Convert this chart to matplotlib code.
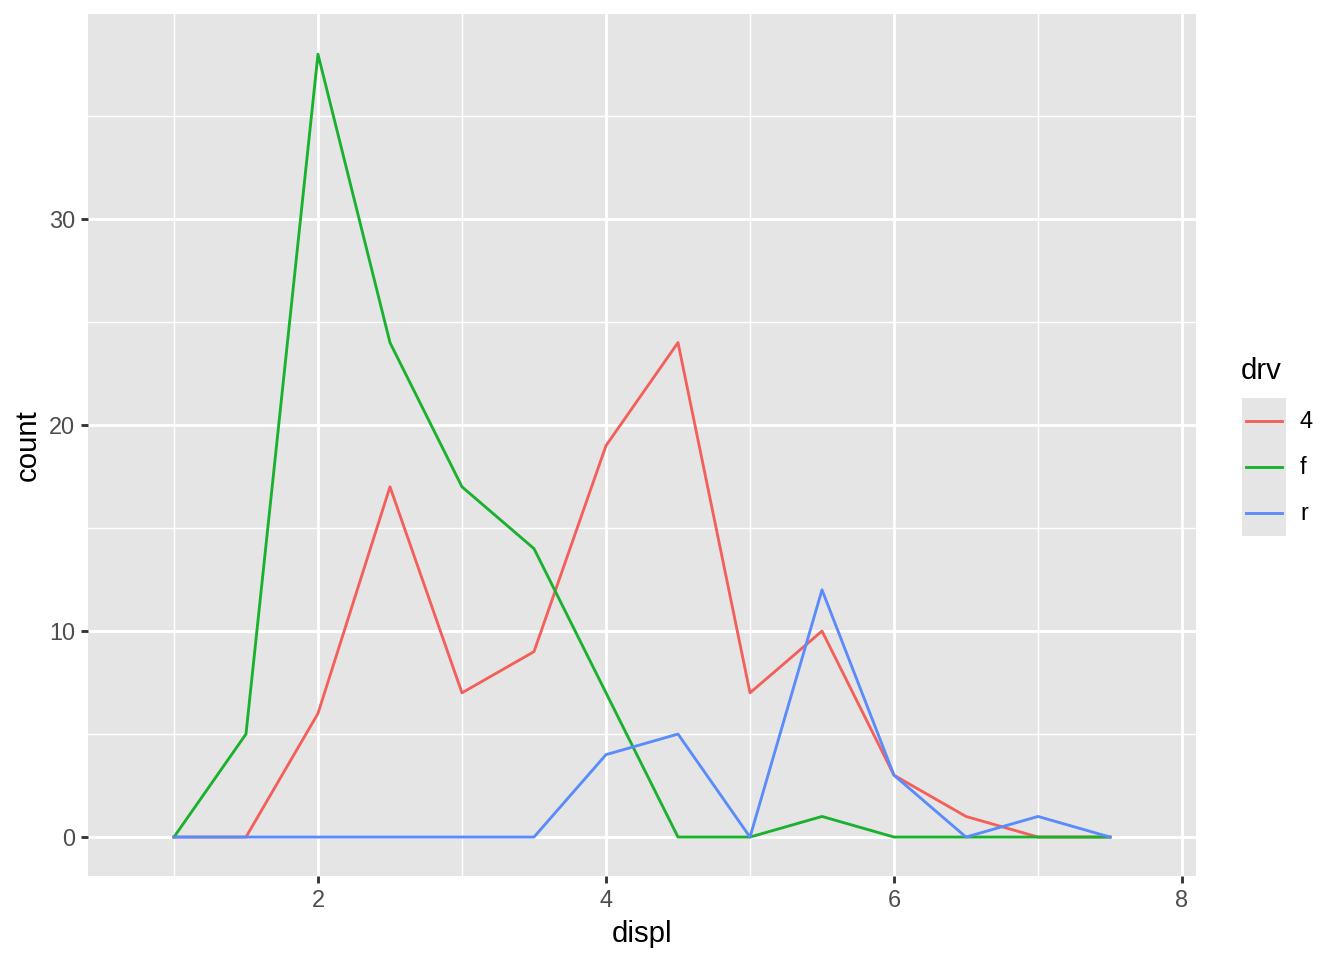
import matplotlib
matplotlib.use("Agg")
import matplotlib.pyplot as plt
from matplotlib.patches import Rectangle
from matplotlib.lines import Line2D

plt.rcParams['font.family'] = ['Liberation Sans', 'DejaVu Sans']

displ = [1.0, 1.5, 2.0, 2.5, 3.0, 3.5, 4.0, 4.5, 5.0, 5.5, 6.0, 6.5, 7.0, 7.5]
drv_labels = ['4', 'f', 'r']
count_4 = [0, 0, 6, 17, 7, 9, 19, 24, 7, 10, 3, 1, 0, 0]
count_f = [0, 5, 38, 24, 17, 14, 7, 0, 0, 1, 0, 0, 0, 0]
count_r = [0, 0, 0, 0, 0, 0, 4, 5, 0, 12, 3, 0, 1, 0]
colors = ['#F3605B', '#19B12E', '#5A8BFB']

W, H = 1344, 960
fig = plt.figure(figsize=(7, 5), dpi=192)

def fx(px):
    return px / W

def fy(py):
    return 1 - py / H

ax = fig.add_axes([fx(88), fy(876), fx(1196) - fx(88), fy(14) - fy(876)])
ax.set_facecolor('#E5E5E5')
for s in ax.spines.values():
    s.set_visible(False)

for series, c in zip([count_4, count_f, count_r], colors):
    ax.plot(displ, series, color=c, lw=1.07, zorder=3)

ax.set_xlim(0.403, 8.097)
ax.set_ylim(-1.89, 39.95)
ax.set_xticks([2, 4, 6, 8])
ax.set_yticks([0, 10, 20, 30])
ax.set_xticks([1, 3, 5, 7], minor=True)
ax.set_yticks([5, 15, 25, 35], minor=True)
ax.grid(which='major', color='white', lw=1.07)
ax.grid(which='minor', color='white', lw=0.53)
ax.set_axisbelow(True)
ax.tick_params(which='major', length=2.75, width=1.07, color='#333333',
               labelsize=8.8, labelcolor='#4D4D4D', pad=2.2)
ax.tick_params(which='minor', length=0)
ax.set_xlabel('displ', fontsize=11, labelpad=2.75)
ax.set_ylabel('count', fontsize=11, labelpad=2.75)

# legend
fig.text(fx(1241), fy(371), 'drv', fontsize=11, ha='left', va='center')
fig.add_artist(Rectangle((fx(1242), fy(536)), fx(44), fy(398) - fy(536),
                         facecolor='#E5E5E5', edgecolor='none',
                         transform=fig.transFigure))
for i, (lab, c) in enumerate(zip(drv_labels, colors)):
    yc = 421 + 46 * i
    fig.add_artist(Line2D([fx(1246), fx(1282)], [fy(yc), fy(yc)], color=c,
                          lw=1.07, transform=fig.transFigure))
    fig.text(fx(1300), fy(yc), lab, fontsize=8.8, ha='left', va='center')

fig.savefig('out.png', dpi=192)
